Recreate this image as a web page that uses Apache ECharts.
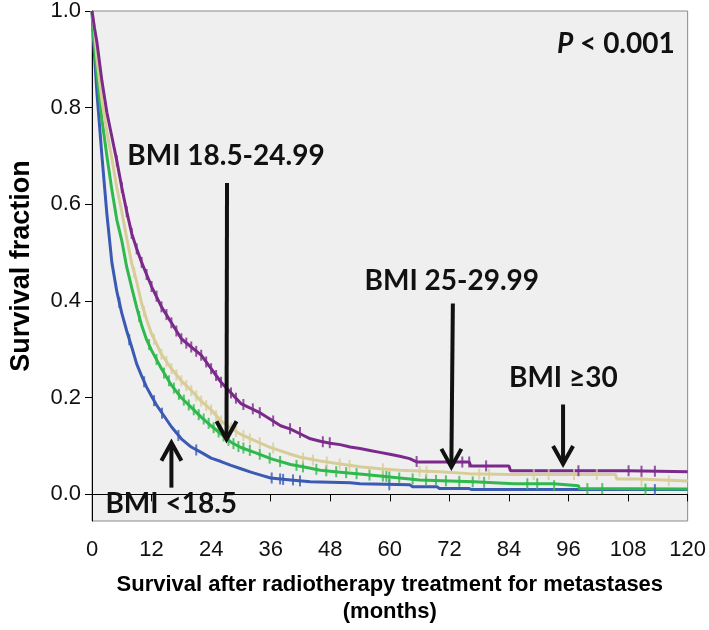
<!DOCTYPE html>
<html><head><meta charset="utf-8">
<script src="https://cdn.jsdelivr.net/npm/echarts@6/dist/echarts.min.js"></script>
<style>html,body{margin:0;padding:0;background:#fff}#c{width:709px;height:630px}</style>
</head><body><div id="c"></div>
<script>
// ---- data (months, survival fraction) ----
const xTicks = [0,12,24,36,48,60,72,84,96,108,120];
const yTicks = [0,0.2,0.4,0.6,0.8,1.0];

const bmiUnder18 = [[0,1],[0.3,0.94],[1,0.83],[2,0.7],[3,0.58],[4,0.48],[5,0.42],[6,0.375],[7,0.338],[8,0.305],[9,0.27],[10,0.245],[11,0.222],[12,0.203],[13,0.185],[14,0.17],[16,0.14],[18,0.115],[20,0.098],[22,0.087],[24,0.075],[26,0.068],[28,0.06],[30,0.053],[32,0.046],[34,0.04],[36,0.034],[40,0.03],[44,0.026],[52,0.024],[54,0.022],[64,0.02],[64.6,0.016],[69.5,0.016],[70,0.012],[76,0.012],[76.5,0.01],[120,0.01]];
const bmiNormal = [[0,1],[0.3,0.95],[1,0.87],[2,0.775],[3,0.7],[4,0.63],[5,0.568],[6,0.525],[7,0.47],[8,0.428],[9,0.387],[10,0.35],[11,0.32],[12,0.298],[14,0.26],[16,0.226],[18,0.2],[20,0.18],[22,0.16],[24,0.142],[26,0.125],[28,0.108],[30,0.097],[33,0.086],[36,0.074],[40,0.062],[43,0.056],[46,0.05],[50,0.046],[55,0.041],[60,0.036],[66,0.03],[72,0.028],[77,0.026],[85,0.022],[93,0.022],[93.2,0.018],[98,0.018],[98.2,0.012],[120,0.011]];
const bmiOver = [[0,1],[0.5,0.96],[1,0.9],[2,0.815],[3,0.75],[4,0.695],[5,0.635],[6,0.585],[7,0.53],[8,0.478],[9,0.44],[10,0.395],[11,0.362],[12,0.332],[14,0.29],[16,0.26],[18,0.235],[20,0.215],[22,0.193],[24,0.175],[26,0.152],[28,0.137],[30,0.124],[33,0.11],[36,0.097],[38,0.09],[40,0.083],[42,0.077],[46,0.069],[50,0.063],[54,0.057],[58,0.053],[62,0.05],[70,0.047],[76,0.043],[84,0.041],[105.5,0.041],[105.7,0.032],[110,0.032],[110.3,0.028],[120,0.028]];
const bmiObese = [[0,1],[0.5,0.965],[1,0.935],[2,0.855],[3,0.79],[4,0.74],[5,0.69],[6,0.635],[7,0.585],[8,0.54],[9,0.508],[10,0.48],[11,0.455],[12,0.43],[14,0.388],[16,0.355],[18,0.322],[20,0.305],[22,0.288],[24,0.26],[26,0.232],[28,0.21],[30,0.188],[32,0.178],[34,0.168],[36,0.155],[38,0.142],[40,0.135],[42,0.125],[44,0.115],[46,0.11],[48,0.106],[50,0.103],[52,0.098],[54,0.095],[56,0.091],[58,0.087],[60,0.083],[62,0.079],[64,0.074],[65.5,0.067],[76,0.067],[76.3,0.059],[84,0.059],[84.3,0.049],[108,0.049],[120,0.047]];

// censored observations
const cenUnder18 = [[5.5,0.397],[7.5,0.32],[10.5,0.233],[12.5,0.194],[14.1,0.168],[17.4,0.122],[21,0.092],[36.2,0.034],[37.9,0.032],[38.5,0.031],[40.5,0.03],[41.9,0.028],[59.9,0.02],[113.4,0.01]];
const cenNormal = [[9.5,0.368],[11.5,0.31],[13,0.279],[14.5,0.251],[15.5,0.235],[16.5,0.22],[17.5,0.207],[18.5,0.195],[19.5,0.185],[20.5,0.175],[21.5,0.165],[22.5,0.156],[23.5,0.147],[24.5,0.138],[25.5,0.129],[26.5,0.121],[27.5,0.112],[28.5,0.105],[29.5,0.099],[30.5,0.096],[31.8,0.091],[33.8,0.083],[35.8,0.075],[37.9,0.068],[41.2,0.06],[42.5,0.057],[45.2,0.052],[47.2,0.049],[49.2,0.047],[51.2,0.045],[53.3,0.043],[55.9,0.04],[58.6,0.038],[59.3,0.037],[59.9,0.036],[61.9,0.034],[64.6,0.032],[67.3,0.03],[69.3,0.029],[71.3,0.028],[74,0.027],[76.7,0.026],[79,0.025],[87.7,0.022],[89.7,0.022],[93.1,0.018],[99.8,0.012],[102.8,0.012],[111.5,0.011]];
const cenOver = [[8.5,0.459],[10.5,0.378],[12.5,0.321],[14,0.29],[15,0.275],[16,0.26],[17,0.247],[18,0.235],[19,0.225],[20,0.215],[21,0.204],[22,0.193],[23,0.184],[24,0.175],[25,0.163],[26,0.152],[27,0.144],[28,0.137],[29,0.13],[30.5,0.122],[31.8,0.115],[33.8,0.107],[36.5,0.096],[42.5,0.075],[44.5,0.071],[47.3,0.067],[49.9,0.063],[51.9,0.06],[58.6,0.053],[66,0.048],[67.4,0.048],[78,0.042],[80,0.042],[89,0.041],[92,0.041],[97.1,0.041],[101.7,0.041],[110.7,0.028],[116.2,0.028]];
const cenObese = [[5,0.69],[6,0.635],[7,0.585],[8,0.54],[9,0.508],[10,0.48],[11,0.455],[12,0.43],[13,0.41],[14,0.388],[15,0.372],[16,0.355],[17,0.338],[18,0.322],[19,0.313],[20,0.305],[21,0.296],[22,0.288],[23,0.274],[24,0.26],[25,0.246],[26,0.232],[27,0.221],[28,0.21],[29,0.199],[30.5,0.186],[32.4,0.177],[33.8,0.169],[36.5,0.152],[39.9,0.136],[41.9,0.128],[46.5,0.109],[47.9,0.107],[65.4,0.068],[74.6,0.067],[76,0.067],[79.4,0.059],[98,0.049],[108.1,0.049],[110.7,0.048],[113.4,0.048]];

// annotations (data coordinates)
const labels = [
  {text:'BMI 18.5-24.99', at:[7.1,0.701]},
  {text:'BMI 25-29.99', at:[54.9,0.442]},
  {text:'BMI \u226530', at:[84.0,0.241]},
  {text:'BMI <18.5', at:[2.7,-0.019]}
];
const arrows = [
  {from:[27.2,0.644], to:[27.1,0.114]},
  {from:[16.0,0.014], to:[16.0,0.107]},
  {from:[72.7,0.395], to:[72.4,0.057]},
  {from:[94.9,0.186], to:[94.9,0.063]}
];
const pText = {at:[117.4,0.932]};

const colors = {under:'#3a5ab4', normal:'#2fb84c', over:'#d8cd98', obese:'#7b2a8b'};

const chart = echarts.init(document.getElementById('c'), null, {renderer:'canvas'});
function lineS(name, data, color){
  return {name, type:'line', data, showSymbol:false, symbol:'none', animation:false,
    lineStyle:{color, width:3}, itemStyle:{color}, z:3};
}
function cenS(name, data, color){
  return {name:name+' censored', type:'scatter', data, symbol:'rect', symbolSize:[2,11], animation:false,
    itemStyle:{color}, z:4, silent:true};
}
chart.setOption({
  animation:false,
  grid:{left:91, right:19, top:9, bottom:100, show:true, backgroundColor:'#efefef', borderColor:'#8a8a8a', borderWidth:1},
  xAxis:{type:'value', min:0, max:120, interval:12,
    axisLine:{show:true, lineStyle:{color:'#000', width:1}},
    axisTick:{show:true, length:7, lineStyle:{color:'#000'}},
    axisLabel:{fontFamily:'Liberation Sans', fontSize:22, color:'#111', margin:18},
    splitLine:{show:false},
    name:'Survival after radiotherapy treatment for metastases\n(months)',
    nameLocation:'middle', nameGap:50,
    nameTextStyle:{fontFamily:'Liberation Sans', fontWeight:'bold', fontSize:22, color:'#000', lineHeight:27, align:'center'}
  },
  yAxis:{type:'value', min:-0.055, max:1,
    axisLine:{show:true, onZero:false, lineStyle:{color:'#000', width:1}},
    axisTick:{show:true, length:7, lineStyle:{color:'#000'}, customValues:yTicks},
    axisLabel:{fontFamily:'Liberation Sans', fontSize:22, color:'#111', margin:11, customValues:yTicks,
      formatter:v=>v.toFixed(1)},
    splitLine:{show:false},
    name:'Survival fraction', nameLocation:'middle', nameGap:57,
    nameTextStyle:{fontFamily:'Liberation Sans', fontWeight:'bold', fontSize:27, color:'#000'}
  },
  series:[
    lineS('BMI <18.5', bmiUnder18, colors.under),
    lineS('BMI 18.5-24.99', bmiNormal, colors.normal),
    lineS('BMI 25-29.99', bmiOver, colors.over),
    lineS('BMI \u226530', bmiObese, colors.obese),
    cenS('BMI <18.5', cenUnder18, colors.under),
    cenS('BMI 18.5-24.99', cenNormal, colors.normal),
    cenS('BMI 25-29.99', cenOver, colors.over),
    cenS('BMI \u226530', cenObese, colors.obese)
  ]
});

const px = p => chart.convertToPixel({gridIndex:0}, p);
const g = [];
labels.forEach(l=>{
  const p = px(l.at);
  g.push({type:'text', x:p[0], y:p[1], z:10, style:{text:l.text, font:'bold 28px Lato', fill:'#111', textAlign:'left', textVerticalAlign:'middle'}});
});
arrows.forEach(a=>{
  const f = px(a.from), t = px(a.to);
  const dir = t[1] > f[1] ? 1 : -1;
  g.push({type:'line', z:10, shape:{x1:f[0], y1:f[1], x2:t[0], y2:t[1]-dir*2}, style:{stroke:'#111', lineWidth:4}});
  g.push({type:'polyline', z:10, shape:{points:[[t[0]-10, t[1]-dir*18],[t[0], t[1]],[t[0]+10, t[1]-dir*18]]}, style:{stroke:'#111', lineWidth:4, fill:null, lineJoin:'miter'}});
});
const pp = px(pText.at);
g.push({type:'text', x:pp[0], y:pp[1], z:10, style:{text:'{i|P} < 0.001', font:'bold 28px Lato', fill:'#111', textAlign:'right', textVerticalAlign:'middle',
  rich:{i:{fontStyle:'italic', fontWeight:'bold', fontSize:28, fontFamily:'Lato', fill:'#111'}}}});
chart.setOption({graphic:g});
</script>
</body></html>
